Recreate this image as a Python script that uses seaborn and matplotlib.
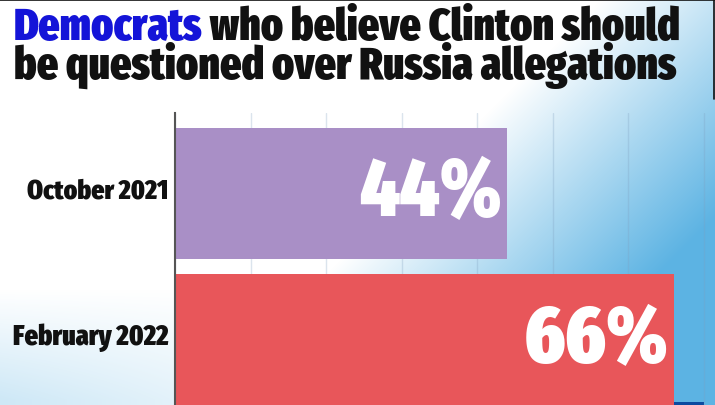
import numpy as np
import pandas as pd
import matplotlib
matplotlib.use("Agg")
import matplotlib.pyplot as plt
import seaborn as sns
from matplotlib import font_manager as fm
from matplotlib.lines import Line2D
from matplotlib.patches import Rectangle
from matplotlib.textpath import TextPath

# ---- data ----
categories = ["October 2021", "February 2022"]
values = [44, 66]
value_labels = ["44%", "66%"]
bar_colors = ["#a98fc6", "#e8565a"]
title_highlight = "Democrats"
title_line1_rest = " who believe Clinton should"
title_line2 = "be questioned over Russia allegations"

sns.set_theme(style="white")


# pick the narrowest available face family
def cond_score(name):
    n = name.lower().replace(" ", "")
    if "extracondensed" in n or "ultracondensed" in n:
        return 3
    if "semicondensed" in n:
        return 1
    if "condensed" in n or "narrow" in n:
        return 2
    return 0


best = None
for f in fm.fontManager.ttflist:
    sc = cond_score(f.name)
    st = str(f.stretch)
    if sc == 0 and st in ("condensed", "semi-condensed", "extra-condensed"):
        sc = 1.5
    if sc > 0:
        key = (sc, f.weight if isinstance(f.weight, (int, float)) else 700)
        if best is None or key > best[0]:
            best = (key, f.name, f.stretch)
if best:
    FONT, STRETCH = best[1], best[2]
else:
    FONT, STRETCH = "Liberation Sans", "normal"
heavy = [f.weight for f in fm.fontManager.ttflist
         if f.name == FONT and isinstance(f.weight, (int, float))]
WEIGHT = max(heavy) if heavy else "bold"
if isinstance(WEIGHT, (int, float)) and WEIGHT < 700:
    WEIGHT = "bold"
plt.rcParams["font.family"] = [FONT, "Liberation Sans", "DejaVu Sans"]
plt.rcParams["font.stretch"] = STRETCH

W, H = 715, 406
fig = plt.figure(figsize=(W / 100, H / 100), dpi=100)
renderer = fig.canvas.get_renderer()


def width_px(txt):
    return txt.get_window_extent(renderer=renderer).width


def glyph_height_px(txt):
    tp = TextPath((0, 0), txt.get_text(), prop=txt.get_fontproperties())
    return tp.get_extents().height * 100 / 72


def fit_width(txt, target_px):
    txt.set_fontsize(txt.get_fontsize() * target_px / width_px(txt))


def fit_box(txt, target_w, target_h):
    s = min(target_w / width_px(txt), target_h / glyph_height_px(txt))
    txt.set_fontsize(txt.get_fontsize() * s)


# ---- background gradient ----
yy, xx = np.mgrid[0:H, 0:W].astype(float)
t1 = 0.003 * (xx - 500) + 0.003 * (yy - 150) + 0.15
t2 = 0.3 * np.clip((yy - 290) / 110, 0, 1) * np.clip(1 - xx / 400, 0, 1)
t = np.clip(np.maximum(t1, t2), 0, 1)
white = np.array([1.0, 1.0, 1.0])
blue = np.array([0x5c, 0xb3, 0xe3]) / 255
img = white[None, None, :] * (1 - t[..., None]) + blue[None, None, :] * t[..., None]
bg = fig.add_axes([0, 0, 1, 1], zorder=-1)
bg.imshow(img, aspect="auto", extent=[0, 1, 0, 1], origin="upper")
bg.set_axis_off()

# ---- main axes ----
ax = fig.add_axes([175 / W, 0, 1 - 175 / W, 1 - 114 / H], zorder=1)
ax.set_facecolor("none")
df = pd.DataFrame({"period": categories, "pct": values})
sns.barplot(data=df, x="pct", y="period", hue="period", palette=bar_colors,
            legend=False, width=0.9, orient="h", ax=ax, saturation=1,
            edgecolor="none", linewidth=0)
ax.set_xlim(0, 71.46)
ax.set_ylim(1.45, -0.55)
ax.set_xticks(np.arange(0, 80, 10))
ax.xaxis.grid(True, color="#7f9fbf", alpha=0.28, lw=1)
ax.yaxis.grid(False)
ax.set_axisbelow(True)
ax.tick_params(axis="x", length=0, labelbottom=False)
ax.set_yticks(range(len(categories)))
ax.set_yticklabels([])
ax.tick_params(axis="y", length=0)
ax.set_xlabel("")
ax.set_ylabel("")
for s in ["top", "right", "bottom"]:
    ax.spines[s].set_visible(False)
ax.spines["left"].set_color("#555555")
ax.spines["left"].set_linewidth(1.5)

# category labels (right-aligned just left of the axis)
cat_widths = [141, 155]
for i, (c, wpx) in enumerate(zip(categories, cat_widths)):
    tx = ax.text(-0.9, i - 0.02, c, ha="right", va="center", color="#111111",
                 fontsize=18, fontweight=WEIGHT)
    fit_width(tx, wpx)

# value labels inside the bars
val_widths = [150, 145]
for i, (v, lab, wpx) in enumerate(zip(values, value_labels, val_widths)):
    tx = ax.text(v - 0.7, i + 0.15, lab, ha="right", va="baseline", color="white",
                 fontsize=60, fontweight=WEIGHT)
    fit_box(tx, wpx, 63)

# ---- title ----
ta = fig.text(14 / W, 1 - 40 / H, title_highlight, color="#1414d8",
              fontsize=28, fontweight=WEIGHT, va="baseline", ha="left")
tb = fig.text(0, 1 - 40 / H, title_line1_rest, color="#111111",
              fontsize=28, fontweight=WEIGHT, va="baseline", ha="left")
tc = fig.text(14 / W, 1 - 79 / H, title_line2, color="#111111",
              fontsize=28, fontweight=WEIGHT, va="baseline", ha="left")
w_total = width_px(ta) + width_px(tb)
scale = 665 / w_total
for tx in (ta, tb, tc):
    tx.set_fontsize(28 * scale)
bb = ta.get_window_extent(renderer=renderer)
tb.set_x(bb.x1 / W)

# ---- frame bits ----
fig.add_artist(Line2D([0, 1], [1 - 0.8 / H] * 2, transform=fig.transFigure,
                      color="#111111", lw=1.2))
fig.add_artist(Line2D([1 - 1.5 / W] * 2, [1 - 100 / H, 1], transform=fig.transFigure,
                      color="#111111", lw=1.2))
fig.add_artist(Rectangle((611 / W, 0), 93 / W, 3.5 / H, transform=fig.transFigure,
                         color="#0b4aa0", lw=0))

fig.savefig("out.png", dpi=100)
